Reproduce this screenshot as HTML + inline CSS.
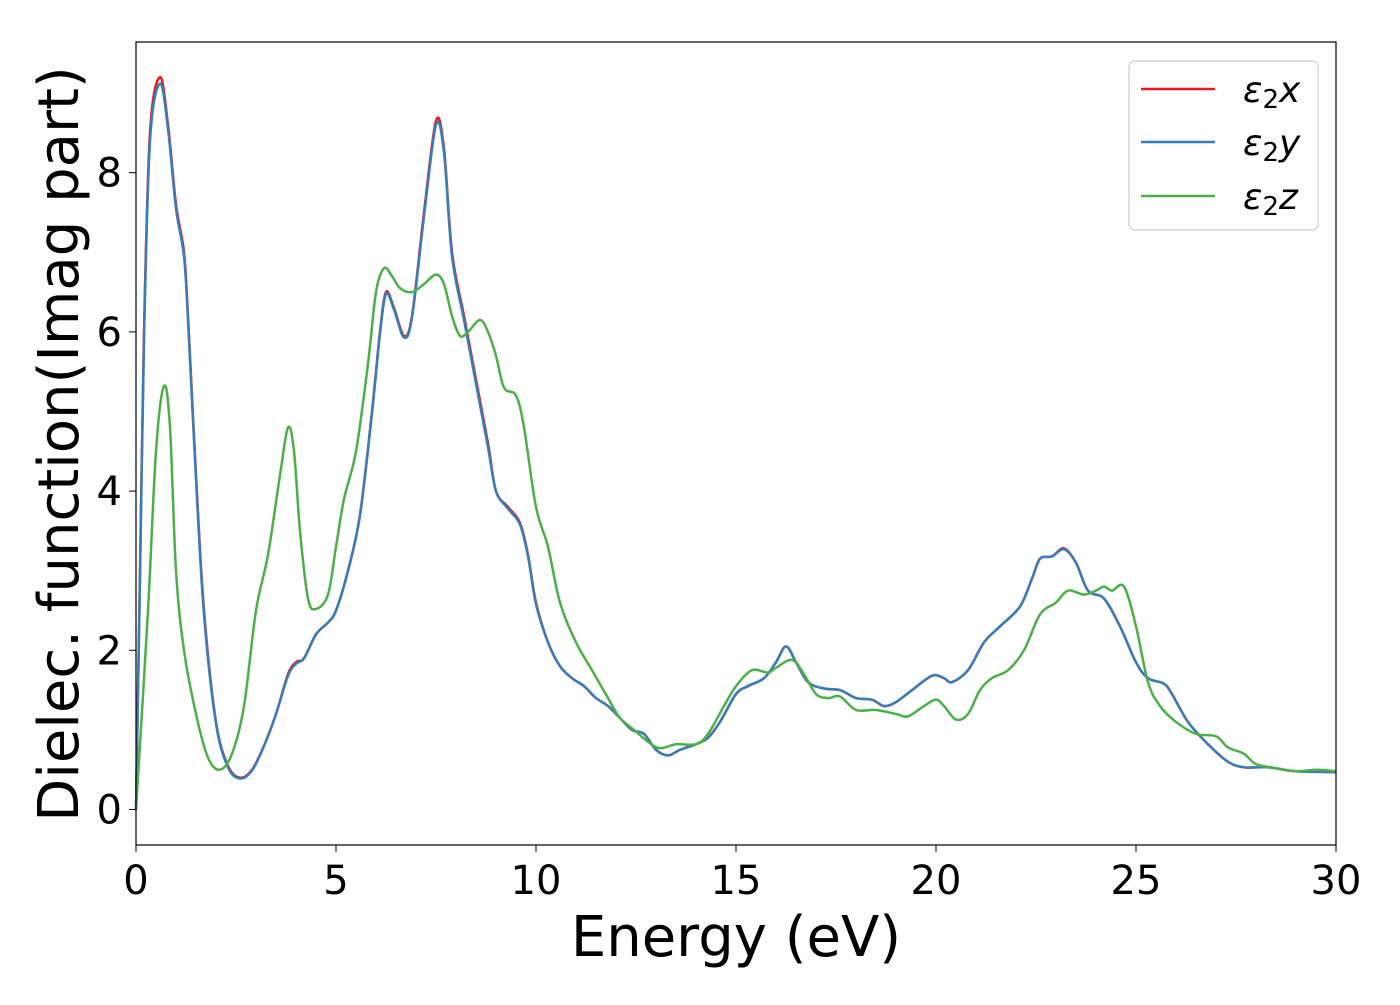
<!DOCTYPE html>
<html><head><meta charset="utf-8"><style>
body{margin:0;background:#fff;}
svg text{font-family:"DejaVu Sans","Liberation Sans",sans-serif;}
</style></head><body>
<svg id="chart" width="1400" height="1000" viewBox="0 0 1400 1000" xmlns="http://www.w3.org/2000/svg">
<rect width="1400" height="1000" fill="#fff"/>
<g id="plot"></g>
<rect x="136" y="42" width="1200" height="803" fill="none" stroke="#000" stroke-width="1.2"/>
<g id="xticks"></g>
<g id="yticks"></g>
<text x="736" y="956" font-size="56" text-anchor="middle">Energy (eV)</text>
<text transform="translate(78,444) rotate(-90)" font-size="56" text-anchor="middle">Dielec. function(Imag part)</text>
<g>
<rect x="1129" y="61" width="189" height="169" rx="6" fill="#fff" stroke="#ccc" stroke-width="1.2"/>
<line x1="1141" y1="89" x2="1215" y2="89" stroke="#e41a1c" stroke-width="2.5"/>
<line x1="1141" y1="142" x2="1215" y2="142" stroke="#377eb8" stroke-width="2.5"/>
<line x1="1141" y1="196" x2="1215" y2="196" stroke="#4daf4a" stroke-width="2.5"/>
<text x="1243" y="102" font-size="36" font-style="italic">ε<tspan font-style="normal" font-size="26" dy="6">2</tspan><tspan dy="-6">x</tspan></text>
<text x="1243" y="155" font-size="36" font-style="italic">ε<tspan font-style="normal" font-size="26" dy="6">2</tspan><tspan dy="-6">y</tspan></text>
<text x="1243" y="209" font-size="36" font-style="italic">ε<tspan font-style="normal" font-size="26" dy="6">2</tspan><tspan dy="-6">z</tspan></text>
</g>
</svg>
<script>
const energyX=[0,0.1,0.2,0.35,0.6,0.8,1.0,1.2,1.3,1.5,1.7,2.0,2.3,2.6,2.9,3.2,3.5,3.8,4.0,4.2,4.5,4.8,5.0,5.3,5.6,5.9,6.1,6.25,6.45,6.7,6.9,7.2,7.5,7.7,7.9,8.2,8.5,8.8,9.0,9.3,9.6,9.8,10.0,10.3,10.6,10.9,11.2,11.5,11.8,12.1,12.4,12.7,13.0,13.3,13.6,14.0,14.3,14.6,15.0,15.3,15.7,16.0,16.25,16.5,16.8,17.2,17.6,18.0,18.4,18.7,19.0,19.4,19.9,20.2,20.4,20.8,21.2,21.6,22.1,22.4,22.6,22.9,23.2,23.5,23.8,24.2,24.6,25.0,25.3,25.7,25.9,26.3,26.8,27.3,27.7,28.3,29,30];
const eps2x=[0,3,6,8.5,9.2,8.6,7.6,7.0,6.2,4.2,2.5,1.1,0.55,0.4,0.5,0.8,1.2,1.7,1.85,1.9,2.2,2.35,2.5,3.0,3.7,5.0,6.0,6.5,6.3,5.95,6.2,7.5,8.65,8.3,7.0,6.2,5.4,4.6,4.0,3.8,3.6,3.2,2.6,2.1,1.8,1.65,1.55,1.4,1.3,1.15,1.0,0.95,0.75,0.68,0.75,0.82,0.9,1.1,1.45,1.55,1.65,1.85,2.05,1.85,1.6,1.52,1.5,1.4,1.38,1.3,1.35,1.5,1.68,1.65,1.6,1.75,2.1,2.3,2.55,2.9,3.15,3.18,3.28,3.1,2.75,2.65,2.3,1.85,1.65,1.58,1.45,1.1,0.82,0.6,0.53,0.53,0.48,0.47];
const eps2y=[0,2.9,5.9,8.4,9.12,8.55,7.55,6.95,6.15,4.15,2.45,1.08,0.53,0.39,0.49,0.8,1.2,1.68,1.83,1.9,2.2,2.35,2.5,3.0,3.7,4.98,5.98,6.48,6.28,5.93,6.18,7.45,8.6,8.25,6.95,6.15,5.35,4.55,4.0,3.78,3.58,3.18,2.58,2.1,1.8,1.65,1.55,1.4,1.3,1.15,1.0,0.95,0.75,0.68,0.75,0.82,0.9,1.1,1.45,1.55,1.65,1.85,2.05,1.85,1.6,1.52,1.5,1.4,1.38,1.3,1.35,1.5,1.68,1.65,1.6,1.75,2.1,2.3,2.55,2.9,3.15,3.18,3.27,3.1,2.75,2.65,2.3,1.85,1.65,1.58,1.45,1.1,0.82,0.6,0.53,0.53,0.48,0.47];
const energyZ=[0,0.3,0.5,0.7,0.85,1.0,1.2,1.5,1.8,2.1,2.4,2.7,3.0,3.3,3.6,3.8,3.95,4.1,4.3,4.5,4.8,5.0,5.2,5.5,5.8,6.0,6.2,6.4,6.6,6.9,7.2,7.5,7.7,7.9,8.1,8.3,8.6,8.8,9.0,9.2,9.5,9.7,10.0,10.3,10.6,11.0,11.4,11.8,12.1,12.5,12.8,13.1,13.5,14.0,14.3,14.7,15.0,15.4,15.8,16.0,16.4,16.7,17.0,17.3,17.6,18.0,18.5,19.0,19.3,19.7,20.0,20.2,20.5,20.8,21.1,21.4,21.8,22.2,22.6,23.0,23.3,23.7,24.0,24.2,24.4,24.7,25.0,25.3,25.6,26.0,26.5,27.0,27.3,27.7,28.0,28.5,29.0,29.5,30];
const eps2z=[0,2.5,4.5,5.32,4.8,3.0,2.0,1.2,0.65,0.5,0.7,1.3,2.5,3.2,4.2,4.8,4.5,3.5,2.65,2.52,2.7,3.3,3.9,4.5,5.6,6.5,6.8,6.7,6.55,6.5,6.6,6.72,6.6,6.2,5.95,6.0,6.15,6.0,5.7,5.3,5.2,4.8,3.8,3.3,2.6,2.1,1.75,1.4,1.15,0.98,0.85,0.77,0.82,0.82,0.95,1.3,1.55,1.75,1.72,1.78,1.88,1.7,1.45,1.4,1.42,1.25,1.25,1.2,1.17,1.3,1.38,1.3,1.13,1.2,1.5,1.65,1.75,2.0,2.45,2.6,2.75,2.7,2.75,2.8,2.75,2.8,2.3,1.6,1.3,1.1,0.95,0.92,0.78,0.7,0.57,0.52,0.48,0.5,0.48];
const xTickLabels=["0","5","10","15","20","25","30"];
const yTickLabels=["0","2","4","6","8"];

const X0=136,X1=1336,Y0=809.5,PPU=79.6;
function sx(v){return X0+(v/30)*(X1-X0);}
function sy(v){return Y0-v*PPU;}
const NS="http://www.w3.org/2000/svg";
function path(xs,ys){
  const p=xs.map((x,i)=>[sx(x),sy(ys[i])]);
  let d="M"+p[0][0]+","+p[0][1];
  for(let i=0;i<p.length-1;i++){
    const a=p[Math.max(0,i-1)],b=p[i],c=p[i+1],e=p[Math.min(p.length-1,i+2)];
    const c1x=b[0]+(c[0]-a[0])/6,c1y=b[1]+(c[1]-a[1])/6,c2x=c[0]-(e[0]-b[0])/6,c2y=c[1]-(e[1]-b[1])/6;
    d+=` C${c1x},${c1y} ${c2x},${c2y} ${c[0]},${c[1]}`;
  }
  return d;
}
const plot=document.getElementById("plot");
[[energyX,eps2x,"#e41a1c","series-eps2x"],[energyX,eps2y,"#377eb8","series-eps2y"],[energyZ,eps2z,"#4daf4a","series-eps2z"]].forEach(s=>{
  const el=document.createElementNS(NS,"path");
  el.setAttribute("d",path(s[0],s[1]));
  el.setAttribute("fill","none");el.setAttribute("stroke",s[2]);el.setAttribute("stroke-width","2.5");
  
  
  plot.appendChild(el);
});
const xt=document.getElementById("xticks");
xTickLabels.forEach(l=>{
  const x=sx(+l);
  const ln=document.createElementNS(NS,"line");
  ln.setAttribute("x1",x);ln.setAttribute("x2",x);ln.setAttribute("y1",845);ln.setAttribute("y2",852);ln.setAttribute("stroke","#000");
  
  
  xt.appendChild(ln);
  const t=document.createElementNS(NS,"text");
  t.setAttribute("x",x);t.setAttribute("y",894);t.setAttribute("font-size","40");t.setAttribute("text-anchor","middle");t.textContent=l;
  
  
  xt.appendChild(t);
});
const yt=document.getElementById("yticks");
yTickLabels.forEach(l=>{
  const y=sy(+l);
  const ln=document.createElementNS(NS,"line");
  ln.setAttribute("x1",129);ln.setAttribute("x2",136);ln.setAttribute("y1",y);ln.setAttribute("y2",y);ln.setAttribute("stroke","#000");
  
  
  yt.appendChild(ln);
  const t=document.createElementNS(NS,"text");
  t.setAttribute("x",122);t.setAttribute("y",y+14);t.setAttribute("font-size","40");t.setAttribute("text-anchor","end");t.textContent=l;
  
  
  yt.appendChild(t);
});
</script>
</body></html>
